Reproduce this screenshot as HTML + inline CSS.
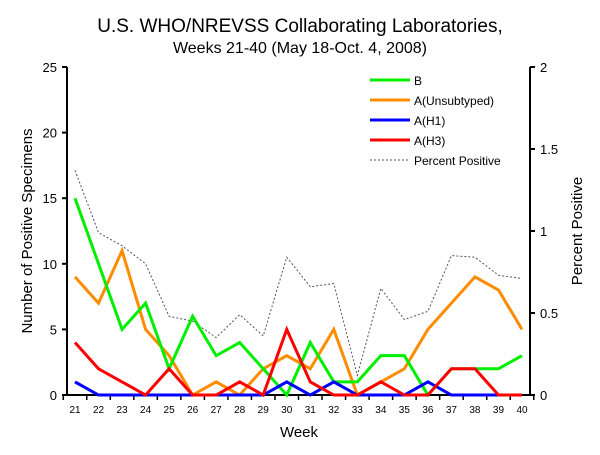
<!DOCTYPE html>
<html><head><meta charset="utf-8"><style>
body{margin:0;background:#fff;font-family:"Liberation Sans",Arial,sans-serif}
svg text{font-family:"Liberation Sans",Arial,sans-serif}
</style></head><body>
<svg id="chart" width="600" height="450" xmlns="http://www.w3.org/2000/svg">
<text x="300" y="32" text-anchor="middle" font-size="19">U.S. WHO/NREVSS Collaborating Laboratories,</text>
<text x="300" y="53" text-anchor="middle" font-size="16">Weeks 21-40 (May 18-Oct. 4, 2008)</text>
<g id="axes"></g><g id="marks"></g>
<text x="299" y="437" text-anchor="middle" font-size="15">Week</text>
<text transform="translate(32,231) rotate(-90)" text-anchor="middle" font-size="15">Number of Positive Specimens</text>
<text transform="translate(582,231) rotate(-90)" text-anchor="middle" font-size="15">Percent Positive</text>
</svg>
<script>
const weeks=[21,22,23,24,25,26,27,28,29,30,31,32,33,34,35,36,37,38,39,40];
const seriesB=[15,10,5,7,2,6,3,4,2,0,4,1,1,3,3,0,2,2,2,3];
const seriesAUnsub=[9,7,11,5,3,0,1,0,2,3,2,5,0,1,2,5,7,9,8,5];
const seriesH1=[1,0,0,0,0,0,0,0,0,1,0,1,0,0,0,1,0,0,0,0];
const seriesH3=[4,2,1,0,2,0,0,1,0,5,1,0,0,1,0,0,2,2,0,0];
const percentPositive=[1.37,0.99,0.91,0.80,0.48,0.45,0.35,0.49,0.36,0.84,0.66,0.68,0.12,0.65,0.46,0.51,0.85,0.84,0.73,0.71];
const leftTicks=[0,5,10,15,20,25];
const rightTicks=[0,0.5,1,1.5,2];
const NS="http://www.w3.org/2000/svg";
const x0=67,x1=530,yTop=67,yBot=395;
const xs=i=>75+i*(522-75)/(weeks.length-1);
const yl=v=>yBot-v/25*(yBot-yTop);
const yr=v=>yBot-v/2*(yBot-yTop);
const axes=document.getElementById('axes'),marks=document.getElementById('marks');
function mk(tag,attrs,parent){const e=document.createElementNS(NS,tag);for(const k in attrs)e.setAttribute(k,attrs[k]);parent.appendChild(e);return e;}
let e;
e=mk('line',{x1:x0,y1:yTop,x2:x0,y2:yBot,stroke:'#000','stroke-width':2},axes);


e=mk('line',{x1:x1,y1:yTop,x2:x1,y2:yBot,stroke:'#000','stroke-width':2},axes);


e=mk('line',{x1:x0,y1:yBot,x2:x1,y2:yBot,stroke:'#000','stroke-width':2},axes);


leftTicks.forEach(v=>{
 mk('line',{x1:x0-5,y1:yl(v),x2:x0,y2:yl(v),stroke:'#000','stroke-width':2},axes);
 const t=mk('text',{x:x0-10,y:yl(v)+5,'text-anchor':'end','font-size':13},axes);t.textContent=v;
 
 
});
rightTicks.forEach(v=>{
 mk('line',{x1:x1,y1:yr(v),x2:x1+5,y2:yr(v),stroke:'#000','stroke-width':2},axes);
 const t=mk('text',{x:x1+10,y:yr(v)+5,'font-size':13},axes);t.textContent=v;
 
 
});
for(let i=0;i<=weeks.length;i++){const xx=xs(i)-(522-75)/(weeks.length-1)/2;mk('line',{x1:xx,y1:yBot,x2:xx,y2:yBot+5,stroke:'#000','stroke-width':1.5},axes);}
weeks.forEach((w,i)=>{const t=mk('text',{x:xs(i),y:yBot+18,'text-anchor':'middle','font-size':10},axes);t.textContent=w;
 
 });
function line(arr,yf,color,w,dash,name){
 const p=mk('polyline',{points:arr.map((v,i)=>xs(i)+','+yf(v)).join(' '),fill:'none',stroke:color,'stroke-width':w,'stroke-dasharray':dash||'none','stroke-linejoin':'miter'},marks);
 
 
}
line(percentPositive,yr,'#555',1,'2,2','series-percent-positive');
line(seriesAUnsub,yl,'#ff8c00',3,null,'series-a-unsubtyped');
line(seriesB,yl,'#00ee00',3,null,'series-b');
line(seriesH1,yl,'#0000ff',3,null,'series-a-h1');
line(seriesH3,yl,'#ff0000',3,null,'series-a-h3');
const leg=[['B','#00ee00',3,null],['A(Unsubtyped)','#ff8c00',3,null],['A(H1)','#0000ff',3,null],['A(H3)','#ff0000',3,null],['Percent Positive','#555',1,'2,2']];
leg.forEach((l,i)=>{const y=80+i*20;
 const g=mk('g',{},marks);
 
 
 mk('line',{x1:370,y1:y,x2:410,y2:y,stroke:l[1],'stroke-width':l[2],'stroke-dasharray':l[3]||'none'},g);
 const t=mk('text',{x:414,y:y+5,'font-size':12},g);t.textContent=l[0];});
</script>
</body></html>
